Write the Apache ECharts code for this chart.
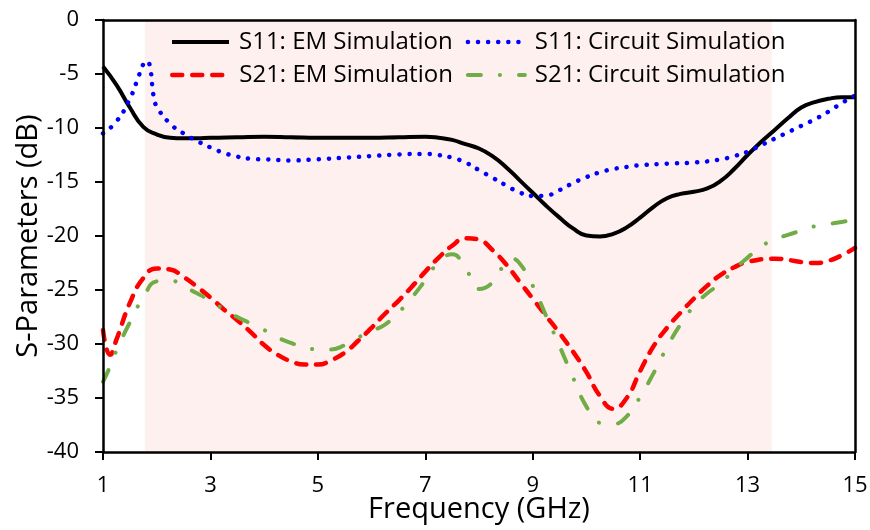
<!DOCTYPE html>
<html>
<head>
<meta charset="utf-8">
<script src="https://cdn.jsdelivr.net/npm/echarts@6/dist/echarts.min.js"></script>
<style>
html,body{margin:0;padding:0;background:#fff;}
#chart{width:870px;height:530px;}
</style>
</head>
<body>
<div id="chart"></div>
<script>
// ---- data ----
const xTickLabels = [1, 3, 5, 7, 9, 11, 13, 15];
const yTickLabels = [0, -5, -10, -15, -20, -25, -30, -35, -40];
const shadedBand = [1.78, 13.45];

const s11EmFreq = [1.0, 1.25, 1.5, 1.75, 2.0, 2.25, 2.5, 2.75, 3.0, 3.5, 4.0, 4.5, 5.0, 5.5, 6.0, 6.5, 7.0, 7.25, 7.5, 7.75, 8.0, 8.25, 8.5, 8.75, 9.0, 9.25, 9.5, 9.75, 10.0, 10.25, 10.5, 10.75, 11.0, 11.25, 11.5, 11.75, 12.0, 12.25, 12.5, 12.75, 13.0, 13.25, 13.5, 13.75, 14.0, 14.25, 14.5, 14.75, 15.0];
const s11EmVal  = [-4.3, -6.0, -8.1, -9.9, -10.6, -10.9, -10.95, -10.95, -10.9, -10.85, -10.8, -10.85, -10.9, -10.9, -10.9, -10.85, -10.8, -10.9, -11.1, -11.5, -11.9, -12.6, -13.6, -14.8, -16.0, -17.2, -18.3, -19.3, -19.95, -20.05, -19.8, -19.2, -18.3, -17.3, -16.5, -16.1, -15.9, -15.6, -14.9, -13.8, -12.5, -11.3, -10.2, -9.1, -8.1, -7.6, -7.3, -7.15, -7.15];

const s11CirFreq = [1.0, 1.25, 1.5, 1.65, 1.75, 1.82, 1.88, 1.94, 2.0, 2.25, 2.5, 2.75, 3.0, 3.25, 3.5, 3.75, 4.0, 4.5, 5.0, 5.5, 6.0, 6.5, 7.0, 7.25, 7.5, 7.75, 8.0, 8.25, 8.5, 8.75, 9.0, 9.25, 9.5, 9.75, 10.0, 10.25, 10.5, 10.75, 11.0, 11.5, 12.0, 12.5, 12.75, 13.0, 13.25, 13.5, 13.75, 14.0, 14.25, 14.5, 14.75, 15.0];
const s11CirVal  = [-10.5, -9.4, -7.3, -5.4, -4.1, -3.8, -4.5, -7.0, -8.0, -9.6, -10.5, -11.2, -11.8, -12.3, -12.65, -12.85, -12.9, -13.0, -12.9, -12.75, -12.6, -12.45, -12.4, -12.5, -12.75, -13.2, -13.9, -14.6, -15.3, -15.95, -16.3, -16.25, -15.75, -15.1, -14.55, -14.1, -13.8, -13.6, -13.45, -13.3, -13.2, -12.9, -12.6, -12.2, -11.6, -11.0, -10.4, -9.8, -9.2, -8.5, -7.7, -7.0];

const s21EmFreq = [1.0, 1.13, 1.25, 1.5, 1.75, 2.0, 2.25, 2.5, 2.75, 3.0, 3.25, 3.5, 3.75, 4.0, 4.25, 4.5, 4.75, 5.0, 5.25, 5.5, 5.75, 6.0, 6.25, 6.5, 6.75, 7.0, 7.25, 7.5, 7.75, 8.0, 8.25, 8.5, 8.75, 9.0, 9.25, 9.5, 9.75, 10.0, 10.25, 10.5, 10.75, 11.0, 11.25, 11.5, 11.75, 12.0, 12.25, 12.5, 12.75, 13.0, 13.5, 14.0, 14.25, 14.5, 14.75, 15.0];
const s21EmVal  = [-28.7, -31.0, -29.6, -26.2, -23.9, -23.0, -23.1, -23.8, -24.7, -25.7, -26.8, -27.8, -28.9, -30.1, -31.0, -31.6, -31.9, -31.9, -31.5, -30.8, -29.7, -28.5, -27.2, -26.0, -24.7, -23.3, -22.0, -20.9, -20.2, -20.35, -21.3, -22.6, -24.2, -25.8, -27.4, -29.0, -30.7, -32.6, -34.8, -36.0, -35.0, -32.5, -30.2, -28.5, -27.1, -25.8, -24.6, -23.6, -22.9, -22.4, -22.1, -22.4, -22.5, -22.3, -21.8, -21.1];

const s21CirFreq = [1.0, 1.13, 1.25, 1.5, 1.75, 2.0, 2.25, 2.5, 2.75, 3.0, 3.25, 3.5, 3.75, 4.0, 4.25, 4.5, 4.75, 5.0, 5.25, 5.5, 5.75, 6.0, 6.25, 6.5, 6.75, 7.0, 7.25, 7.5, 7.75, 8.0, 8.25, 8.5, 8.6, 8.75, 9.0, 9.25, 9.5, 9.75, 10.0, 10.25, 10.5, 10.75, 11.0, 11.25, 11.5, 11.75, 12.0, 12.25, 12.5, 12.75, 13.0, 13.25, 13.5, 13.75, 14.0, 14.25, 14.5, 14.75, 15.0];
const s21CirVal  = [-33.5, -32.1, -30.6, -28.0, -25.7, -24.2, -24.1, -24.7, -25.3, -26.0, -26.8, -27.5, -28.1, -28.7, -29.4, -29.9, -30.3, -30.5, -30.5, -30.1, -29.4, -28.8, -28.2, -27.1, -25.7, -24.1, -22.4, -21.7, -23.0, -24.9, -24.3, -22.4, -22.1, -22.5, -24.6, -27.4, -30.2, -33.1, -35.8, -37.3, -37.4, -36.7, -34.9, -32.7, -30.3, -28.2, -26.5, -25.3, -24.4, -23.1, -22.0, -21.0, -20.3, -19.9, -19.5, -19.1, -18.9, -18.7, -18.5];

const names = ['S11: EM Simulation', 'S11: Circuit Simulation', 'S21: EM Simulation', 'S21: Circuit Simulation'];

function pairs(xs, ys) { return xs.map((x, i) => [x, ys[i]]); }

const FONT = '"Open Sans", "DejaVu Sans", sans-serif';
const chart = echarts.init(document.getElementById('chart'), null, { renderer: 'canvas' });

const axisLineStyle = { color: '#000', width: 2.5 };
const legendCommon = {
  left: 170, padding: 0,
  itemWidth: 57, itemHeight: 14, itemGap: 13,
  itemStyle: { opacity: 0 },
  lineStyle: { width: 'inherit' },
  textStyle: { fontFamily: FONT, fontSize: 24, color: '#000', padding: [0, 0, 0, 5] }
};

const option = {
  animation: false,
  backgroundColor: '#fff',
  grid: { left: 103, right: 15, top: 20, bottom: 78, containLabel: false, outerBoundsMode: 'none' },
  legend: [
    Object.assign({ data: [names[0], names[1]], top: 30 }, legendCommon),
    Object.assign({ data: [names[2], names[3]], top: 63 }, legendCommon)
  ],
  xAxis: [
    {
      type: 'value', min: 1, max: 15, interval: 1, z: 5,
      name: 'Frequency (GHz)', nameLocation: 'middle', nameGap: 43, nameMoveOverlap: false,
      nameTextStyle: { fontFamily: FONT, fontSize: 29, color: '#000' },
      axisLine: { show: true, onZero: false, lineStyle: axisLineStyle },
      axisTick: { show: true, inside: false, length: 8, lineStyle: { color: '#000', width: 2 }, customValues: xTickLabels },
      axisLabel: { fontFamily: FONT, fontSize: 22, color: '#000', margin: 23, customValues: xTickLabels },
      splitLine: { show: false }
    },
    {
      type: 'value', min: 1, max: 15, position: 'top', z: 5,
      axisLine: { show: true, onZero: false, lineStyle: axisLineStyle },
      axisTick: { show: false }, axisLabel: { show: false }, splitLine: { show: false }
    }
  ],
  yAxis: [
    {
      type: 'value', min: -40, max: 0, interval: 5, z: 5,
      name: 'S-Parameters (dB)', nameLocation: 'middle', nameGap: 60, nameRotate: 90, nameMoveOverlap: false,
      nameTextStyle: { fontFamily: FONT, fontSize: 29, color: '#000' },
      axisLine: { show: true, onZero: false, lineStyle: axisLineStyle },
      axisTick: { show: true, inside: false, length: 8, lineStyle: { color: '#000', width: 2 } },
      axisLabel: { fontFamily: FONT, fontSize: 22, color: '#000', margin: 24, customValues: yTickLabels },
      splitLine: { show: false }
    },
    {
      type: 'value', min: -40, max: 0, position: 'right', z: 5,
      axisLine: { show: true, onZero: false, lineStyle: axisLineStyle },
      axisTick: { show: false }, axisLabel: { show: false }, splitLine: { show: false }
    }
  ],
  series: [
    {
      name: 'shade', type: 'line', data: [], z: 1, silent: true,
      markArea: {
        silent: true,
        itemStyle: { color: '#fff0f0' },
        data: [[{ xAxis: shadedBand[0] }, { xAxis: shadedBand[1] }]]
      }
    },
    {
      name: names[0], type: 'line', smooth: 0.5, symbol: 'none', z: 3,
      data: pairs(s11EmFreq, s11EmVal),
      color: '#000',
      lineStyle: { color: '#000', width: 4 }
    },
    {
      name: names[1], type: 'line', smooth: 0.5, symbol: 'none', z: 3,
      data: pairs(s11CirFreq, s11CirVal),
      color: '#0000ff',
      lineStyle: { color: '#0000ff', width: 4.5, type: [0.1, 10], cap: 'round' }
    },
    {
      name: names[2], type: 'line', smooth: 0.5, symbol: 'none', z: 3,
      data: pairs(s21EmFreq, s21EmVal),
      color: '#ff0000',
      lineStyle: { color: '#ff0000', width: 4.5, type: [10, 10], cap: 'round' }
    },
    {
      name: names[3], type: 'line', smooth: 0.5, symbol: 'none', z: 3,
      data: pairs(s21CirFreq, s21CirVal),
      color: '#70ad47',
      lineStyle: { color: '#70ad47', width: 4, type: [13, 19, 0.1, 19], cap: 'round' }
    }
  ]
};
chart.setOption(option);
</script>
</body>
</html>
